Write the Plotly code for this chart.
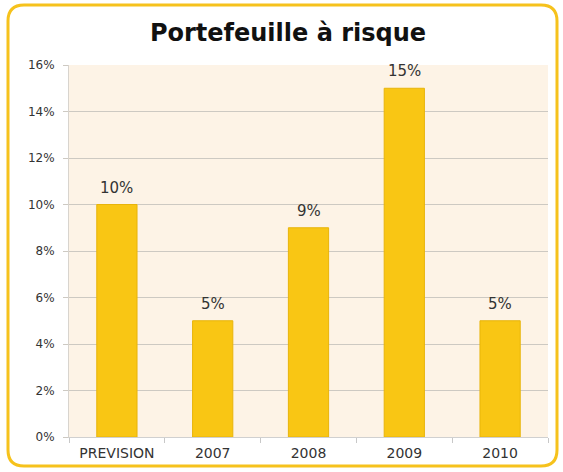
import plotly.graph_objects as go

categories = ["PREVISION", "2007", "2008", "2009", "2010"]
values = [0.10, 0.05, 0.09, 0.15, 0.05]
value_labels = ["10%", "5%", "9%", "15%", "5%"]
y_ticks = [0, 0.02, 0.04, 0.06, 0.08, 0.10, 0.12, 0.14, 0.16]
y_tick_labels = ["0%", "2%", "4%", "6%", "8%", "10%", "12%", "14%", "16%"]

W, H = 563, 472
L, R, T, B = 69, 548, 65, 437

def px(x):
    return (x - L) / (R - L)

def py(y):
    return (B - y) / (B - T)

# rounded outer border path in paper coords
x0, x1, y0, y1, r = 8, 557, 5, 466, 16
path = (
    f"M {px(x0+r)},{py(y0)} L {px(x1-r)},{py(y0)} "
    f"Q {px(x1)},{py(y0)} {px(x1)},{py(y0+r)} "
    f"L {px(x1)},{py(y1-r)} "
    f"Q {px(x1)},{py(y1)} {px(x1-r)},{py(y1)} "
    f"L {px(x0+r)},{py(y1)} "
    f"Q {px(x0)},{py(y1)} {px(x0)},{py(y1-r)} "
    f"L {px(x0)},{py(y0+r)} "
    f"Q {px(x0)},{py(y0)} {px(x0+r)},{py(y0)} Z"
)

FONT = "DejaVu Sans, sans-serif"

fig = go.Figure()
fig.add_trace(go.Bar(
    x=categories,
    y=values,
    marker=dict(color="#F9C614", line=dict(color="#E8B40A", width=1)),
    width=0.42,
    hoverinfo="skip",
))

# category axis: annotation x given as category index
annotations = [
    dict(x=i, y=v, text=t, showarrow=False, xref="x", yref="y",
         yanchor="bottom", yshift=6,
         font=dict(family=FONT, size=15, color="#333333"))
    for i, (v, t) in enumerate(zip(values, value_labels))
]

fig.update_layout(
    width=W, height=H,
    margin=dict(l=L, r=W - R, t=T, b=H - B, autoexpand=False),
    paper_bgcolor="white",
    plot_bgcolor="#FDF3E6",
    showlegend=False,
    title=dict(text="<b>Portefeuille à risque</b>", x=288 / W, xanchor="center",
               y=1 - 33 / H, yanchor="middle",
               font=dict(family=FONT, size=24, color="#111111")),
    annotations=annotations,
    shapes=[dict(type="path", xref="paper", yref="paper", path=path,
                 line=dict(color="#F6C21C", width=3), fillcolor="rgba(0,0,0,0)", layer="below")],
)

fig.update_xaxes(
    type="category",
    categoryorder="array", categoryarray=categories,
    range=[-0.5, len(categories) - 0.5],
    tickson="boundaries",
    ticks="outside", ticklen=5, tickcolor="#C8C8C8",
    showline=True, linecolor="#D0D0D0", linewidth=1,
    showgrid=False,
    ticklabelstandoff=3,
    tickfont=dict(family=FONT, size=14, color="#333333"),
)
fig.update_yaxes(
    range=[0, 0.16],
    tickvals=y_ticks, ticktext=y_tick_labels,
    showgrid=True, gridcolor="#CDC9C2", gridwidth=1,
    showline=True, linecolor="#D8D4CE", linewidth=1,
    ticks="outside", ticklen=5, tickcolor="#CDC9C2",
    ticklabelstandoff=6,
    zeroline=False,
    tickfont=dict(family=FONT, size=12, color="#333333"),
)

fig.write_html("out.html", config={"displayModeBar": False},
               post_script="document.body.style.margin='0';document.body.style.padding='0';")
